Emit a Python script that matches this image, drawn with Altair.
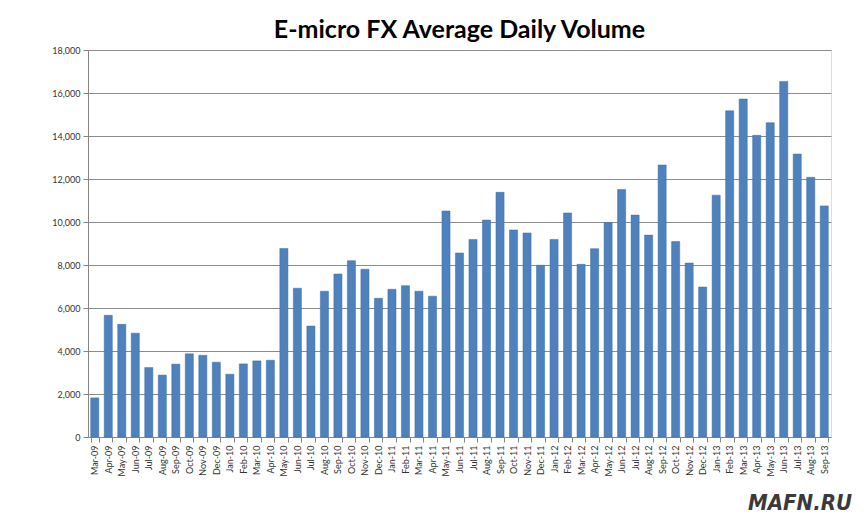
import altair as alt
import pandas as pd

months = ["Mar-09","Apr-09","May-09","Jun-09","Jul-09","Aug-09","Sep-09","Oct-09","Nov-09","Dec-09",
          "Jan-10","Feb-10","Mar-10","Apr-10","May-10","Jun-10","Jul-10","Aug-10","Sep-10","Oct-10","Nov-10","Dec-10",
          "Jan-11","Feb-11","Mar-11","Apr-11","May-11","Jun-11","Jul-11","Aug-11","Sep-11","Oct-11","Nov-11","Dec-11",
          "Jan-12","Feb-12","Mar-12","Apr-12","May-12","Jun-12","Jul-12","Aug-12","Sep-12","Oct-12","Nov-12","Dec-12",
          "Jan-13","Feb-13","Mar-13","Apr-13","May-13","Jun-13","Jul-13","Aug-13","Sep-13"]
volume = [1820, 5660, 5240, 4830, 3230, 2880, 3390, 3870, 3800, 3480,
          2920, 3400, 3540, 3570, 8770, 6920, 5160, 6780, 7580, 8200, 7800, 6450,
          6870, 7040, 6780, 6550, 10510, 8560, 9190, 10090, 11380, 9630, 9490, 7990,
          9190, 10420, 8030, 8760, 9970, 11510, 10320, 9390, 12650, 9090, 8090, 6975,
          11250, 15170, 15720, 14030, 14620, 16540, 13160, 12080, 10750]
watermark = ["MAFN.RU"]

df = pd.DataFrame({"month": months, "volume": volume})
FONT = "Lato"

bars = alt.Chart(df).mark_bar(color="#4F81BD", stroke="#3F6FA8", strokeWidth=0.5).encode(
    x=alt.X("month:N", sort=None, title=None,
            scale=alt.Scale(paddingInner=0.4, paddingOuter=0.2),
            axis=alt.Axis(labelAngle=270, labelFont=FONT, labelFontSize=9, labelColor="#333333",
                          domainColor="#868686", tickColor="#868686", tickSize=5, tickBand="extent",
                          labelPadding=3, grid=False)),
    y=alt.Y("volume:Q", title=None,
            scale=alt.Scale(domain=[0, 18000], nice=False),
            axis=alt.Axis(values=list(range(0, 18001, 2000)), format=",.0f", labelFont=FONT,
                          labelFontSize=9, labelColor="#333333", domainColor="#868686",
                          tickColor="#868686", tickSize=5, gridColor="#8c8c8c", gridWidth=1,
                          labelPadding=3)),
)

wm = alt.Chart(pd.DataFrame({"t": watermark})).mark_text(
    font="DejaVu Sans Condensed", fontSize=22, fontWeight="bold", fontStyle="italic",
    color="#3a3a3a", align="center", baseline="alphabetic"
).encode(text="t:N", x=alt.value(712), y=alt.value(460))

chart = alt.layer(bars, wm).properties(
    width=743, height=387,
    title=alt.TitleParams("E-micro FX Average Daily Volume", font=FONT, fontSize=25,
                          fontWeight="bold", color="#000000", anchor="middle", offset=3),
    autosize=alt.AutoSizeParams(type="none"),
    padding={"left": 80, "top": 42, "right": 26, "bottom": 85},
).configure_view(stroke="#95B3D7", strokeWidth=1).configure(background="white")

chart.save("out.html", embed_options={"renderer": "svg", "actions": False})
